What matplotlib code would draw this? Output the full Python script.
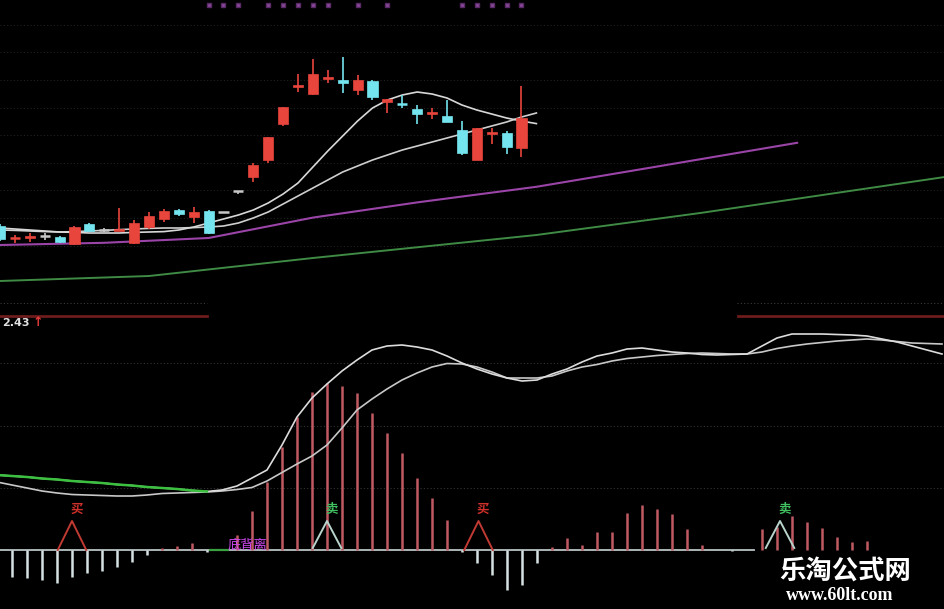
import numpy as np
import matplotlib
matplotlib.use("Agg")
import matplotlib.pyplot as plt

# ---------------- data ----------------
# candles (price units)
c_open  = [4.35, 4.04, 4.06, 4.10, 4.075, 3.90, 4.40, 4.25, 4.225, 3.925, 4.325, 4.525, 4.75, 4.575,
           4.725, 4.70, 5.225, 5.575, 6.00, 6.90, 7.825, 7.65, 8.025, 8.00, 7.75, 7.975, 7.45, 7.41,
           7.275, 7.16, 7.10, 6.75, 6.00, 6.66, 6.675, 6.30]
c_high  = [4.40, 4.125, 4.175, 4.175, 4.10, 4.35, 4.425, 4.30, 4.80, 4.50, 4.70, 4.775, 4.775, 4.825,
           4.75, 4.70, 5.225, 5.925, 6.575, 7.325, 8.15, 8.525, 8.25, 8.575, 8.125, 8.00, 7.525, 7.625,
           7.375, 7.30, 7.50, 6.975, 6.80, 6.80, 6.725, 7.85]
c_low   = [3.975, 3.925, 3.95, 4.00, 3.925, 3.875, 4.20, 4.20, 4.225, 3.90, 4.275, 4.45, 4.60, 4.425,
           4.15, 4.70, 5.15, 5.45, 5.925, 6.85, 7.70, 7.625, 7.925, 7.675, 7.625, 7.50, 7.175, 7.30,
           6.90, 7.025, 6.95, 6.125, 6.00, 6.40, 6.15, 6.075]
c_close = [4.025, 4.06, 4.09, 4.10, 3.95, 4.325, 4.225, 4.25, 4.275, 4.425, 4.60, 4.725, 4.65, 4.70,
           4.175, 4.70, 5.225, 5.875, 6.575, 7.325, 7.875, 8.15, 8.075, 7.925, 8.00, 7.575, 7.525, 7.39,
           7.15, 7.19, 6.95, 6.175, 6.80, 6.69, 6.325, 7.05]

ma_fast = [4.30, 4.275, 4.25, 4.225, 4.20, 4.19, 4.175, 4.175, 4.175, 4.19, 4.20, 4.21, 4.25, 4.325,
           4.425, 4.525, 4.625, 4.75, 4.925, 5.15, 5.425, 5.825, 6.225, 6.60, 6.975, 7.30, 7.50, 7.625,
           7.70, 7.65, 7.55, 7.375, 7.25, 7.15, 7.05, 6.975, 6.91]
ma_slow = [4.25, 4.24, 4.225, 4.21, 4.20, 4.21, 4.225, 4.24, 4.26, 4.275, 4.29, 4.30, 4.30, 4.31,
           4.325, 4.35, 4.425, 4.55, 4.70, 4.90, 5.10, 5.30, 5.50, 5.70, 5.85, 6.00, 6.125, 6.25,
           6.35, 6.45, 6.55, 6.65, 6.75, 6.85, 6.95, 7.075, 7.175]
ma_purple_x = [0, 7, 14, 21, 28, 36, 44, 53.5]
ma_purple_y = [3.875, 3.93, 4.05, 4.56, 4.94, 5.33, 5.83, 6.43]
ma_green_x = [0, 10, 21, 36, 47, 63.4]
ma_green_y = [2.975, 3.10, 3.55, 4.125, 4.675, 5.575]
top_marks = [14, 15, 16, 18, 19, 20, 21, 22, 24, 26, 31, 32, 33, 34, 35]
price_grid = [9.38, 8.69, 8.0, 7.31, 6.62, 5.93, 5.24, 4.55, 3.86]
ref_level = 2.43

# lower indicator
hist = [-0.27, -0.28, -0.30, -0.33, -0.27, -0.23, -0.21, -0.17, -0.12, -0.05,
        0.02, 0.04, 0.07, -0.015, 0.0, 0.15, 0.39, 0.68, 1.03, 1.33,
        1.58, 1.67, 1.64, 1.57, 1.37, 1.17, 0.97, 0.72, 0.52, 0.30,
        -0.02, -0.13, -0.25, -0.40, -0.35, -0.13, 0.03, 0.12, 0.05, 0.18,
        0.18, 0.37, 0.45, 0.41, 0.36, 0.21, 0.05, 0.0, -0.01, 0.0,
        0.21, 0.23, 0.34, 0.28, 0.22, 0.13, 0.08, 0.09]
dif = [0.75, 0.74, 0.73, 0.715, 0.705, 0.69, 0.68, 0.67, 0.655, 0.645, 0.63,
       0.62, 0.61, 0.595, 0.585, 0.60, 0.64, 0.72, 0.80, 1.05, 1.33, 1.52, 1.66, 1.79, 1.90,
       2.00, 2.04, 2.05, 2.03, 2.00, 1.94, 1.87, 1.81, 1.76, 1.72, 1.69, 1.70, 1.76, 1.81, 1.88,
       1.94, 1.97, 2.01, 2.02, 2.00, 1.98, 1.97, 1.955, 1.95, 1.955, 1.96, 2.04, 2.12, 2.16, 2.16,
       2.16, 2.155, 2.15, 2.14, 2.11, 2.08, 2.04, 2.00, 1.96]
dea = [0.68, 0.65, 0.62, 0.59, 0.57, 0.555, 0.55, 0.545, 0.54, 0.54, 0.55,
       0.565, 0.57, 0.575, 0.58, 0.59, 0.605, 0.625, 0.69, 0.775, 0.86, 0.94, 1.05, 1.22, 1.40,
       1.51, 1.61, 1.70, 1.77, 1.83, 1.865, 1.86, 1.83, 1.78, 1.72, 1.72, 1.72, 1.74, 1.79, 1.83,
       1.855, 1.89, 1.915, 1.93, 1.945, 1.955, 1.965, 1.97, 1.965, 1.96, 1.96, 1.98, 2.015, 2.04, 2.06,
       2.075, 2.09, 2.10, 2.11, 2.10, 2.085, 2.07, 2.065, 2.06]
green_until = 13
buy_idx = [4, 31.1]
sell_idx = [21, 51.2]
diverge_idx = 15.7
ind_grid = [1.87, 1.24, 0.62]
zero_line_end = 49.5

# ---------------- figure ----------------
W, H = 945, 609
fig = plt.figure(figsize=(W / 100, H / 100), dpi=100, facecolor="black")

bg = fig.add_axes([0, 0, 1, 1])
bg.set_xlim(0, W)
bg.set_ylim(H, 0)
bg.axis("off")
bg.set_facecolor("black")
# red separator (interrupted)
bg.plot([0, 207], [316, 316], color="#6e1c1c", lw=2.0)
bg.plot([738, W], [316, 316], color="#6e1c1c", lw=2.0)

top_h = 316 / H
ax1 = fig.add_axes([0, 1 - top_h, 1, top_h])
ax1.set_facecolor("none")
ax1.set_xlim(0, W / 14.9)
ax1.set_ylim(10 - 316 / 40, 10)
ax1.axis("off")

for g in price_grid:
    ax1.axhline(g, color="#222222", lw=0.8, ls=(0, (1, 2)), zorder=0)
ax1.plot([0, 207 / 14.9], [ref_level, ref_level], color="#3a3a3a", lw=0.8, ls=(0, (1, 2)))
ax1.plot([737 / 14.9, W / 14.9], [ref_level, ref_level], color="#3a3a3a", lw=0.8, ls=(0, (1, 2)))

# moving averages
ax1.plot(ma_green_x, ma_green_y, color="#3f8a44", lw=1.4, zorder=2)
ax1.plot(ma_purple_x, ma_purple_y, color="#9a44a8", lw=1.5, zorder=2)
ax1.plot(np.arange(len(ma_slow)), ma_slow, color="#cfcfcf", lw=1.2, zorder=2)
ax1.plot(np.arange(len(ma_fast)), ma_fast, color="#d8d8d8", lw=1.2, zorder=2)

RED = "#e8453c"
CYAN = "#74e4ee"
DOJI = "#c8c8c8"
bw = 0.68
for i, (o, h, l, c) in enumerate(zip(c_open, c_high, c_low, c_close)):
    if abs(c - o) < 1e-9:
        col = DOJI
    elif c > o:
        col = RED
    else:
        col = CYAN
    ax1.vlines(i, l, h, color=col, lw=1.2, zorder=3)
    if abs(c - o) < 0.03:
        ax1.hlines((o + c) / 2, i - bw / 2, i + bw / 2, color=col, lw=1.8, zorder=4)
    else:
        ax1.bar(i, abs(c - o), bottom=min(o, c), width=bw, color=col, edgecolor=col,
                lw=0.5, zorder=4)

ax1.plot(top_marks, [9.875] * len(top_marks), ls="none", marker="s", ms=3.5,
         color="#8a4a9c", markeredgecolor="#5a2a66", zorder=5)

# ---------------- indicator ----------------
bot_h = 293 / H
ax2 = fig.add_axes([0, 0, 1, bot_h])
ax2.set_facecolor("none")
ax2.set_xlim(-0.8, 62.2)
ax2.set_ylim(-0.59, 2.34)
ax2.axis("off")

for g in ind_grid:
    ax2.axhline(g, color="#333333", lw=0.8, ls=(0, (1, 2)), zorder=0)

ax2.plot([-0.8, zero_line_end], [0, 0], color="#b8c4c4", lw=1.3, zorder=2)

jj = np.arange(len(hist))
pos = [h if h > 0 else 0 for h in hist]
neg = [h if h < 0 else 0 for h in hist]
ax2.vlines(jj, 0, pos, color="#c05a62", lw=1.8, zorder=3)
ax2.vlines(jj, neg, 0, color="#d6e2e2", lw=1.8, zorder=3)
ax2.plot([13.2, 14.4], [0, 0], color="#3aa040", lw=1.6, zorder=3)

lx = np.arange(-1, len(dif) - 1)
ax2.plot(lx, dea, color="#c8c8c8", lw=1.2, zorder=4)
ax2.plot(lx, dif, color="#dcdcdc", lw=1.2, zorder=4)
ax2.plot(lx[:green_until + 2], dif[:green_until + 2], color="#3cc040", lw=1.8, zorder=5)

tri_w, tri_h = 0.95, 0.29
for b in buy_idx:
    ax2.plot([b - tri_w, b, b + tri_w], [0, tri_h, 0], color="#c23a34", lw=1.4, zorder=6)
    ax2.text(b + 0.3, tri_h + 0.12, "买", color="#d0302a", fontsize=9, ha="center", va="center",
             family=["Noto Sans CJK SC", "DejaVu Sans"], fontweight="bold", zorder=7)
for s in sell_idx:
    ax2.plot([s - tri_w, s, s + tri_w], [0.02, tri_h, 0.02], color="#b8d4cc", lw=1.4, zorder=6)
    ax2.text(s + 0.3, tri_h + 0.12, "卖", color="#40c060", fontsize=9, ha="center", va="center",
             family=["Noto Sans CJK SC", "DejaVu Sans"], fontweight="bold", zorder=7)

ax2.text(diverge_idx, 0.05, "底背离", color="#d048f0", fontsize=9.5, ha="center", va="center",
         family=["Noto Sans CJK SC", "DejaVu Sans"], zorder=7)

# labels
fig.text(2 / W, 1 - 323 / H, "2.43", color="#e0e0e0", fontsize=8, fontweight="bold",
         ha="left", va="center")
fig.text(33 / W, 1 - 322 / H, "↑", color="#e03a3a", fontsize=9, fontweight="bold",
         ha="left", va="center")

# watermark
fig.text(845 / W, 1 - 571 / H, "乐淘公式网", color="white", fontsize=19, fontweight="bold",
         ha="center", va="center", family=["Noto Sans CJK SC", "DejaVu Sans"])
fig.text(840 / W, 1 - 596 / H, "www.60lt.com", color="white", fontsize=13, fontweight="bold",
         ha="center", va="center", family=["Liberation Serif", "DejaVu Serif"])

fig.savefig("out.png", dpi=100, facecolor="black")
